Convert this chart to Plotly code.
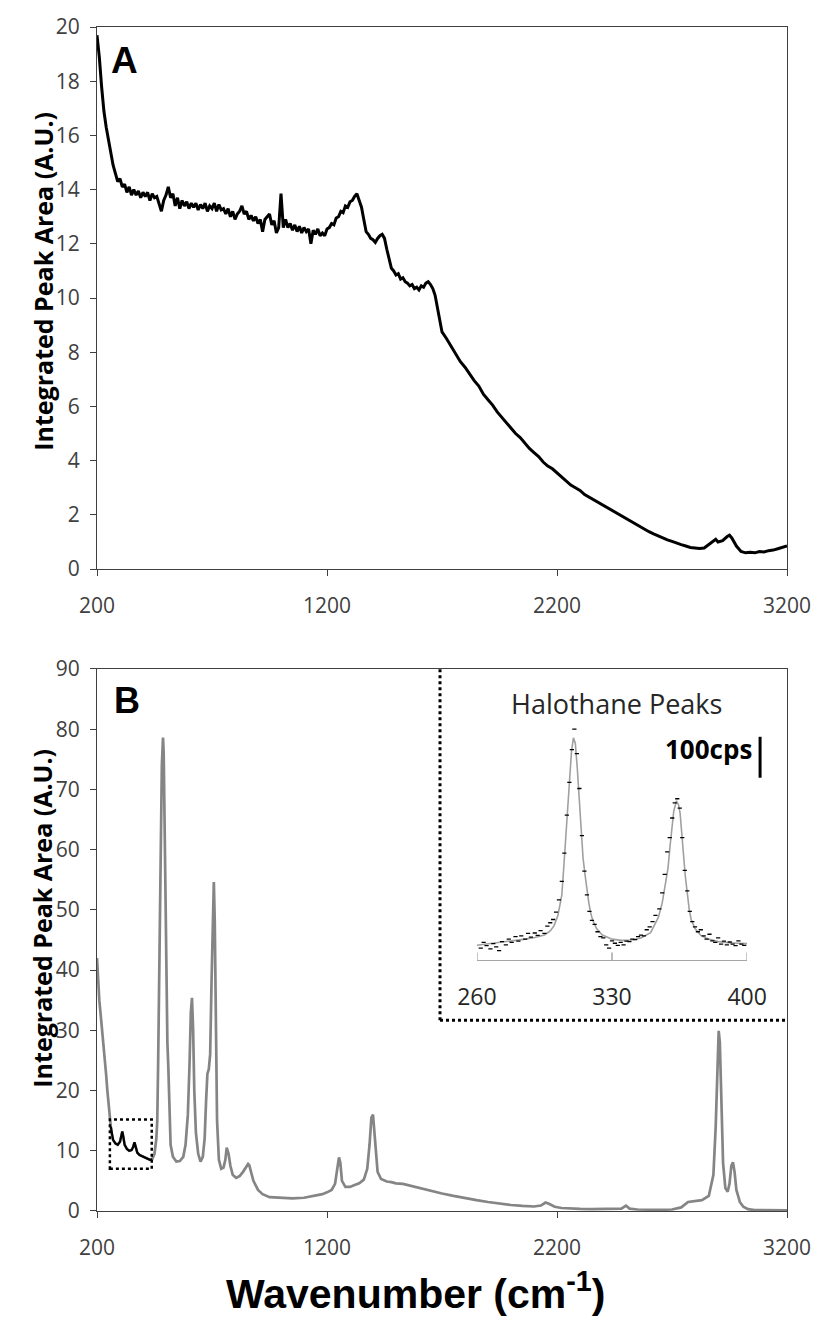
import numpy as np
import plotly.graph_objects as go

# ---------------- data ----------------
# Panel A : integrated peak area vs wavenumber
a_wavenumber = [200,210,220,230,240,250,260,270,280,290,300,310,320,330,340,350,360,370,380,390,
    400,410,420,430,440,450,460,470,480,490,500,510,520,530,540,550,560,570,580,590,
    600,610,620,630,640,650,660,670,680,690,700,710,720,730,740,750,760,770,780,790,
    800,810,820,830,840,850,860,870,880,890,900,910,920,930,940,950,960,970,980,990,
    1000,1010,1020,1030,1040,1050,1060,1070,1080,1090,1100,1110,1120,1130,1140,1150,1160,1170,1180,1190,
    1200,1210,1220,1230,1240,1250,1260,1270,1280,1290,1300,1310,1320,1330,1340,1350,1360,1370,1380,1390,
    1400,1410,1420,1430,1440,1450,1460,1470,1480,1490,1500,1510,1520,1530,1540,1550,1560,1570,1580,1590,
    1600,1610,1620,1630,1640,1650,1660,1670,1680,1690,1700,
    1720,1740,1760,1780,1800,1820,1840,1860,1880,1900,1920,1940,1960,1980,2000,
    2020,2040,2060,2080,2100,2120,2140,2160,2180,2200,2220,2240,2260,2280,2300,
    2320,2340,2360,2380,2400,2420,2440,2460,2480,2500,2520,2540,2560,2580,2600,
    2620,2640,2660,2680,2700,2720,2740,2760,2780,2800,2820,2840,2860,2880,2890,
    2900,2920,2940,2950,2960,2980,3000,3020,3040,3060,3080,3100,3120,3140,3160,3180,3200]
a_area = [19.7,18.9,17.8,16.9,16.3,15.8,15.3,14.9,14.6,14.3,14.4,14.1,14.2,13.9,14.1,13.8,14.0,13.8,13.95,13.7,
    13.9,13.75,13.9,13.6,13.85,13.7,13.75,13.5,13.2,13.6,13.8,14.1,13.7,13.85,13.4,13.7,13.3,13.6,13.4,13.55,
    13.3,13.5,13.35,13.5,13.25,13.45,13.3,13.5,13.2,13.4,13.3,13.5,13.2,13.45,13.25,13.3,13.1,13.3,13.0,13.2,
    12.9,13.1,13.2,13.4,13.1,13.2,12.9,13.05,12.85,13.0,12.75,12.9,12.45,12.9,13.0,13.1,12.7,12.85,12.4,12.6,
    13.85,12.6,12.9,12.6,12.75,12.5,12.7,12.45,12.65,12.4,12.6,12.45,12.55,12.0,12.5,12.35,12.55,12.3,12.4,12.3,
    12.55,12.6,12.75,12.7,12.95,13.0,13.2,13.15,13.4,13.35,13.55,13.6,13.75,13.85,13.6,13.35,12.9,12.45,12.35,12.2,
    12.15,12.05,12.2,12.3,12.35,12.2,11.8,11.4,11.1,11.0,10.85,10.9,10.7,10.75,10.6,10.55,10.45,10.5,10.35,10.4,
    10.3,10.45,10.4,10.55,10.6,10.5,10.35,10.1,9.6,9.1,8.75,
    8.5,8.2,7.9,7.65,7.45,7.2,6.95,6.75,6.45,6.25,6.05,5.8,5.6,5.4,5.2,
    5.0,4.85,4.65,4.45,4.3,4.15,3.95,3.8,3.7,3.55,3.4,3.25,3.1,3.0,2.9,
    2.75,2.65,2.55,2.45,2.35,2.25,2.15,2.05,1.95,1.85,1.75,1.65,1.55,1.45,1.38,
    1.3,1.22,1.15,1.08,1.02,0.95,0.9,0.85,0.8,0.78,0.76,0.78,0.9,1.05,1.1,
    1.0,1.05,1.2,1.25,1.15,0.85,0.65,0.6,0.62,0.6,0.65,0.63,0.68,0.7,0.75,0.8,0.85]

# Panel B : spectrum
b_wavenumber = [200,205,210,215,220,225,230,235,240,245,250,255,260,265,270,280,290,300,305,310,
    315,320,330,340,350,357,363,368,375,385,400,415,430,440,450,458,462,466,470,474,
    478,482,487,490,494,498,502,506,510,515,520,530,545,560,575,585,595,602,608,613,
    618,623,630,640,650,660,668,674,680,686,692,698,703,708,712,716,722,730,740,750,
    758,764,772,780,790,805,820,835,850,857,862,868,880,900,920,950,1000,1050,1100,1150,
    1180,1200,1220,1235,1245,1252,1258,1265,1280,1300,1320,1340,1360,1375,1385,1393,1400,1406,1412,1420,
    1435,1460,1480,1500,1530,1560,1600,1650,1700,1750,1800,1850,1900,1950,2000,2050,2100,2130,2150,2165,
    2190,2220,2260,2300,2350,2400,2450,2480,2500,2515,2550,2600,2650,2700,2740,2770,2800,2830,2860,2880,
    2890,2897,2903,2908,2914,2922,2932,2942,2950,2958,2965,2972,2980,2995,3010,3030,3060,3100,3150,3200]
b_area = [42,38,35,33,31,29,27.5,25,22.5,20,17.5,15.5,14,12.5,11.8,11.2,11.0,11.5,12.3,13.2,
    12.2,11.0,10.3,10.0,10.1,10.6,11.4,10.5,9.7,9.3,9.0,8.7,8.5,8.6,9.5,12,15,25,35,45,
    62,74,78.6,76,65,50,36,28,24,16,11,9,8.2,8.3,9,11,16,24,33,35.4,
    30,20,13,9.5,8.2,9,12,18,22.8,23.5,26,38,50,54.6,48,30,15,8.5,7,7.2,
    8.5,10.5,9.5,7.5,6,5.5,5.8,6.5,7.5,7.8,7.6,6.8,5,3.5,2.8,2.3,2.2,2.1,2.2,2.5,
    2.8,3.1,3.5,4.5,7,8.9,8,5,4,4,4.3,4.6,5.2,7,11,15.5,16,13,9,6.5,
    5.3,4.9,4.8,4.6,4.5,4.2,3.9,3.4,2.9,2.5,2.1,1.8,1.5,1.2,1.0,0.85,0.75,0.9,1.4,1.2,
    0.7,0.5,0.4,0.35,0.3,0.3,0.3,0.4,0.9,0.4,0.25,0.2,0.2,0.25,0.6,1.5,1.7,1.8,2.5,6,
    14,25,29.9,28,18,8,3.8,3.2,4.5,7.5,8.1,6.5,3.5,1.5,0.7,0.3,0.15,0.1,0.1,0.1]

# Inset : halothane peaks (counts per second)
inset_fit_x = [260,265,270,275,280,285,290,295,298,300,302,304,305,306,307,308,309,310,311,312,
    313,314,315,316,317,318,319,320,322,325,330,335,340,345,350,352,354,356,357.5,359,
    360,361,362,363.4,364.5,365.3,366,367,368,369,370,371,373,376,380,385,390,395,400]
inset_fit_y = [37,40,42,45,48,52,56,62,72,85,110,160,227,300,375,450,510,544,530,470,
    395,310,250,210,170,140,115,98,78,62,52,49,50,55,68,85,105,140,178,225,
    276,320,365,390,380,359,325,261,205,160,125,100,78,61,52,46,43,42,41]
inset_dot_x = [262,263.5,265,267,268.5,270,271.5,273,275,276.5,278,280,281.5,283,285,286.5,288,290,291.5,293,
    295,296.5,298,299.5,301,302.5,304,305.3,306.6,307.9,309.2,310.5,311.8,313.1,314.4,315.7,317,318.3,319.6,321,
    322.5,324,325.5,327,328.5,330,331.5,333,334.5,336,337.5,339,340.5,342,343.5,345,346.5,348,349.5,351,
    352.5,354.5,356,357.3,358.6,359.9,361.2,362.5,363.8,365.1,366.4,367.7,369,370.3,371.6,373,374.5,376,377.5,379,
    380.5,382,383.5,385,386.5,388,389.5,391,392.5,394,395.5,397,398.5]
inset_dot_y = [30,44,36,28,41,33,24,46,38,52,44,58,47,60,52,66,57,67,61,73,
    66,84,92,100,118,148,193,262,355,435,515,565,505,420,305,218,160,120,98,88,
    70,58,55,38,30,48,42,37,44,38,47,46,52,51,58,62,60,75,82,95,
    110,126,165,210,265,300,348,385,395,372,300,220,170,120,95,82,70,75,60,52,
    64,48,44,55,40,47,38,45,40,36,48,40,37]

a_yticks = [0, 2, 4, 6, 8, 10, 12, 14, 16, 18, 20]
b_yticks = [0, 10, 20, 30, 40, 50, 60, 70, 80, 90]
x_ticks = [200, 1200, 2200, 3200]
inset_ticks = [260, 330, 400]

# ---------------- figure ----------------
W, H = 823, 1320
ML, MR, MT, MB = 97, 34, 25, 109
PW, PH = W - ML - MR, H - MT - MB

def px(xp):
    return (xp - ML) / PW

def py(yp):
    return (H - MB - yp) / PH

AX = "#404040"
TICKFONT = dict(family="Open Sans", size=21, color="#404040")

fig = go.Figure()

fig.add_trace(go.Scatter(x=a_wavenumber, y=a_area, mode="lines",
                         line=dict(color="black", width=3), xaxis="x", yaxis="y",
                         showlegend=False, hoverinfo="skip"))

bx = np.array(b_wavenumber, dtype=float)
by = np.array(b_area, dtype=float)
fig.add_trace(go.Scatter(x=bx, y=by, mode="lines",
                         line=dict(color="#858585", width=2.7), xaxis="x2", yaxis="y2",
                         showlegend=False, hoverinfo="skip"))
mask = (bx >= 258) & (bx <= 440)
fig.add_trace(go.Scatter(x=bx[mask], y=by[mask], mode="lines",
                         line=dict(color="black", width=2.2), xaxis="x2", yaxis="y2",
                         showlegend=False, hoverinfo="skip"))

fig.add_trace(go.Scatter(x=inset_fit_x, y=inset_fit_y, mode="lines",
                         line=dict(color="#a0a0a0", width=1.6), xaxis="x3", yaxis="y3",
                         showlegend=False, hoverinfo="skip"))
fig.add_trace(go.Scatter(x=inset_dot_x, y=inset_dot_y, mode="markers",
                         marker=dict(symbol="line-ew", size=3, color="black",
                                     line=dict(color="black", width=1.3)),
                         xaxis="x3", yaxis="y3", showlegend=False, hoverinfo="skip"))

axis_common = dict(showgrid=False, zeroline=False, showline=True, linecolor=AX, linewidth=1.3,
                   mirror=True, ticks="outside", ticklen=6, tickcolor=AX, tickwidth=1.3,
                   tickfont=TICKFONT)

yA0 = py(568)
yB1 = py(668)
INSET_BOTTOM = py(960)

fig.update_layout(
    width=W, height=H,
    margin=dict(l=ML, r=MR, t=MT, b=MB),
    paper_bgcolor="white", plot_bgcolor="white",
    xaxis=dict(domain=[0, 1], anchor="y", range=[200, 3200], tickvals=x_ticks,
               ticklabelstandoff=12, **axis_common),
    yaxis=dict(domain=[yA0, 1], anchor="x", range=[0, 20], tickvals=a_yticks,
               ticklabelstandoff=6, **axis_common),
    xaxis2=dict(domain=[0, 1], anchor="y2", range=[200, 3200], tickvals=x_ticks,
                ticklabelstandoff=12, **axis_common),
    yaxis2=dict(domain=[0, yB1], anchor="x2", range=[0, 90], tickvals=b_yticks,
                ticklabelstandoff=6, **axis_common),
    xaxis3=dict(domain=[px(478), px(749)], anchor="y3", range=[260, 400], tickvals=inset_ticks,
                showgrid=False, zeroline=False, showline=True, linecolor="#a6a6a6", linewidth=1.3,
                ticks="", tickfont=dict(family="Open Sans", size=23, color="#262626"),
                ticklabelstandoff=16),
    yaxis3=dict(domain=[INSET_BOTTOM, py(714)], anchor="x3", range=[0, 600],
                visible=False, showgrid=False, zeroline=False),
)

dot_line = dict(color="black", width=3, dash="3px,3px")
shapes = [
    # inset dotted frame
    dict(type="line", xref="paper", yref="paper", x0=px(441), x1=px(441), y0=py(1020), y1=yB1,
         line=dot_line),
    dict(type="line", xref="paper", yref="paper", x0=px(441), x1=1, y0=py(1020), y1=py(1020),
         line=dot_line),
    # box around halothane region in panel B
    dict(type="rect", xref="x2", yref="y2", x0=256, x1=438, y0=7, y1=15.2,
         line=dict(color="black", width=2.5, dash="3px,3px")),
    # 100 cps scale bar
    dict(type="line", xref="paper", yref="paper", x0=px(762), x1=px(762), y0=py(777), y1=py(736),
         line=dict(color="black", width=3)),
]
# inset axis ticks (pointing up)
for t in inset_ticks:
    shapes.append(dict(type="line", xref="x3", yref="paper", x0=t, x1=t,
                       y0=INSET_BOTTOM, y1=INSET_BOTTOM + 8 / PH,
                       line=dict(color="#a6a6a6", width=1.5)))
fig.update_layout(shapes=shapes)

ytitle_font = dict(family="Open Sans", size=25, color="black")
annotations = [
    dict(text="<b>A</b>", xref="paper", yref="paper", x=px(109), y=py(59), xanchor="left",
         yanchor="middle", showarrow=False, font=dict(family="Liberation Sans, Arial", size=37, color="black")),
    dict(text="<b>B</b>", xref="paper", yref="paper", x=px(112), y=py(700), xanchor="left",
         yanchor="middle", showarrow=False, font=dict(family="Liberation Sans, Arial", size=36, color="black")),
    dict(text="<b>Integrated Peak Area (A.U.)</b>", xref="paper", yref="paper", x=px(42), y=py(280),
         textangle=-90, showarrow=False, xanchor="center", yanchor="middle", font=ytitle_font),
    dict(text="<b>Integrated Peak Area (A.U.)</b>", xref="paper", yref="paper", x=px(42), y=py(918),
         textangle=-90, showarrow=False, xanchor="center", yanchor="middle", font=ytitle_font),
    dict(text="<b>Wavenumber (cm<sup>-1</sup>)</b>", xref="paper", yref="paper", x=px(608), y=py(1291),
         xanchor="right", yanchor="middle", showarrow=False,
         font=dict(family="Liberation Sans, Arial", size=41, color="black")),
    dict(text="Halothane Peaks", xref="paper", yref="paper", x=px(618), y=py(703),
         xanchor="center", yanchor="middle", showarrow=False,
         font=dict(family="Open Sans", size=27, color="#262626")),
    dict(text="<b>100cps</b>", xref="paper", yref="paper", x=px(756), y=py(748),
         xanchor="right", yanchor="middle", showarrow=False,
         font=dict(family="Open Sans", size=26, color="black")),
]
fig.update_layout(annotations=annotations)

fig.write_html("out.html")
